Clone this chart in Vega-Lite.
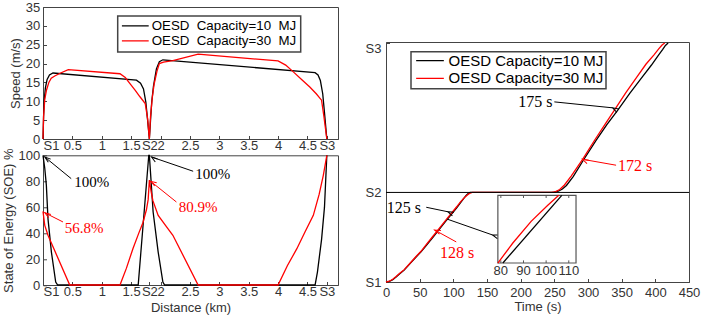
{
"$schema": "https://vega.github.io/schema/vega-lite/v6.json",
"background": "white",
"padding": {"left": 1, "top": 0, "right": 0, "bottom": 0},
"config": {
  "view": {"stroke": "#444", "strokeWidth": 1},
  "axis": {"grid": false, "labelOverlap": false, "labelFont": "Liberation Sans", "labelFontSize": 13, "labelColor": "#333", "titleFont": "Liberation Sans", "titleFontSize": 13, "titleFontWeight": "normal", "titleColor": "#333", "domainColor": "#444", "domainWidth": 1, "tickColor": "#444", "tickSize": -3.5, "tickWidth": 1},
  "legend": {"strokeWidth": 1.5},
  "line": {"strokeWidth": 1.3}
},
"datasets": {
  "speed": [
    {"s":"10","km":0,"v":0},{"s":"10","km":0.01,"v":6},{"s":"10","km":0.02,"v":10},{"s":"10","km":0.04,"v":13.5},{"s":"10","km":0.07,"v":15.8},{"s":"10","km":0.11,"v":17},{"s":"10","km":0.17,"v":17.5},{"s":"10","km":1.59,"v":15.6},{"s":"10","km":1.66,"v":14.8},{"s":"10","km":1.71,"v":13.3},{"s":"10","km":1.75,"v":9.8},{"s":"10","km":1.78,"v":5},{"s":"10","km":1.81,"v":0},{"s":"10","km":1.83,"v":5},{"s":"10","km":1.85,"v":9.8},{"s":"10","km":1.88,"v":14},{"s":"10","km":1.93,"v":18.6},{"s":"10","km":1.98,"v":20.5},{"s":"10","km":2.04,"v":21},{"s":"10","km":4.63,"v":17.6},{"s":"10","km":4.68,"v":17},{"s":"10","km":4.72,"v":15.5},{"s":"10","km":4.76,"v":12},{"s":"10","km":4.79,"v":7},{"s":"10","km":4.83,"v":0},
    {"s":"30","km":0,"v":0},{"s":"30","km":0.01,"v":6},{"s":"30","km":0.03,"v":10.5},{"s":"30","km":0.06,"v":13},{"s":"30","km":0.1,"v":15},{"s":"30","km":0.14,"v":16.1},{"s":"30","km":0.2,"v":16.7},{"s":"30","km":0.3,"v":17.5},{"s":"30","km":0.43,"v":18.4},{"s":"30","km":1.31,"v":17.3},{"s":"30","km":1.4,"v":16.3},{"s":"30","km":1.48,"v":14.7},{"s":"30","km":1.57,"v":12.9},{"s":"30","km":1.65,"v":11.2},{"s":"30","km":1.74,"v":9.4},{"s":"30","km":1.78,"v":5.4},{"s":"30","km":1.81,"v":0},{"s":"30","km":1.83,"v":6},{"s":"30","km":1.86,"v":11},{"s":"30","km":1.89,"v":14.5},{"s":"30","km":1.94,"v":18},{"s":"30","km":1.98,"v":20},{"s":"30","km":2.05,"v":20.4},{"s":"30","km":2.21,"v":20.8},{"s":"30","km":2.64,"v":22.5},{"s":"30","km":4,"v":20.7},{"s":"30","km":4.13,"v":19.6},{"s":"30","km":4.26,"v":17.8},{"s":"30","km":4.4,"v":15.8},{"s":"30","km":4.54,"v":13.8},{"s":"30","km":4.65,"v":12},{"s":"30","km":4.74,"v":10.3},{"s":"30","km":4.78,"v":6},{"s":"30","km":4.83,"v":0}
  ],
  "soe": [
    {"s":"10","km":0,"soe":100},{"s":"10","km":0.03,"soe":90},{"s":"10","km":0.057,"soe":77},{"s":"10","km":0.085,"soe":51},{"s":"10","km":0.143,"soe":25.4},{"s":"10","km":0.216,"soe":2.3},{"s":"10","km":0.25,"soe":0},{"s":"10","km":1.62,"soe":0},{"s":"10","km":1.8,"soe":100},{"s":"10","km":1.81,"soe":100},{"s":"10","km":1.874,"soe":56.3},{"s":"10","km":1.96,"soe":25.4},{"s":"10","km":2.04,"soe":2.3},{"s":"10","km":2.07,"soe":0},{"s":"10","km":4.63,"soe":0},{"s":"10","km":4.67,"soe":10},{"s":"10","km":4.74,"soe":35},{"s":"10","km":4.79,"soe":60},{"s":"10","km":4.83,"soe":100},
    {"s":"30","km":0,"soe":56.8},{"s":"30","km":0.03,"soe":46},{"s":"30","km":0.085,"soe":38.3},{"s":"30","km":0.455,"soe":0},{"s":"30","km":1.31,"soe":0},{"s":"30","km":1.42,"soe":13},{"s":"30","km":1.53,"soe":28},{"s":"30","km":1.63,"soe":40},{"s":"30","km":1.7,"soe":48},{"s":"30","km":1.76,"soe":58},{"s":"30","km":1.79,"soe":66},{"s":"30","km":1.81,"soe":80.9},{"s":"30","km":1.84,"soe":72},{"s":"30","km":1.87,"soe":65},{"s":"30","km":1.96,"soe":53.7},{"s":"30","km":2.1,"soe":45},{"s":"30","km":2.21,"soe":38.3},{"s":"30","km":2.64,"soe":0},{"s":"30","km":4,"soe":0},{"s":"30","km":4.16,"soe":15},{"s":"30","km":4.32,"soe":28},{"s":"30","km":4.46,"soe":41},{"s":"30","km":4.6,"soe":53.7},{"s":"30","km":4.7,"soe":70},{"s":"30","km":4.77,"soe":84.6},{"s":"30","km":4.83,"soe":100}
  ],
  "arrL": [
    {"id":1,"s":"10","km":0.48,"soe":82,"km2":0.03,"soe2":98.7},
    {"id":2,"s":"10","km":2.555,"soe":87.7,"km2":1.847,"soe2":98.7},
    {"id":3,"s":"30","km":0.34,"soe":48.6,"km2":0.03,"soe2":55.7},
    {"id":4,"s":"30","km":2.27,"soe":64,"km2":1.83,"soe2":80}
  ],
  "txtL": [
    {"s":"10","km":0.83,"soe":79.4,"label":"100%"},
    {"s":"10","km":2.89,"soe":85.6,"label":"100%"},
    {"s":"30","km":0.7,"soe":44,"label":"56.8%"},
    {"s":"30","km":2.64,"soe":59.8,"label":"80.9%"}
  ],
  "dist": [
    {"s":"10","t":0,"d":0},{"s":"10","t":5,"d":0.012},{"s":"10","t":10,"d":0.045},{"s":"10","t":15,"d":0.1},{"s":"10","t":20,"d":0.16},{"s":"10","t":27,"d":0.24},{"s":"10","t":35,"d":0.36},{"s":"10","t":45,"d":0.51},{"s":"10","t":52,"d":0.61},{"s":"10","t":60,"d":0.74},{"s":"10","t":70,"d":0.91},{"s":"10","t":77,"d":1.03},{"s":"10","t":90,"d":1.25},{"s":"10","t":99,"d":1.4},{"s":"10","t":105,"d":1.5},{"s":"10","t":110,"d":1.59},{"s":"10","t":115,"d":1.68},{"s":"10","t":119,"d":1.75},{"s":"10","t":122,"d":1.79},{"s":"10","t":125,"d":1.81},{"s":"10","t":243,"d":1.81},{"s":"10","t":250,"d":1.815},{"s":"10","t":256,"d":1.835},{"s":"10","t":262,"d":1.88},{"s":"10","t":268,"d":1.95},{"s":"10","t":278,"d":2.13},{"s":"10","t":294,"d":2.48},{"s":"10","t":312,"d":2.86},{"s":"10","t":328,"d":3.18},{"s":"10","t":344,"d":3.47},{"s":"10","t":362,"d":3.81},{"s":"10","t":381,"d":4.15},{"s":"10","t":394,"d":4.38},{"s":"10","t":405,"d":4.59},{"s":"10","t":411,"d":4.7},{"s":"10","t":415,"d":4.78},{"s":"10","t":419,"d":4.83},
    {"s":"30","t":0,"d":0},{"s":"30","t":5,"d":0.015},{"s":"30","t":10,"d":0.055},{"s":"30","t":15,"d":0.11},{"s":"30","t":20,"d":0.17},{"s":"30","t":27,"d":0.25},{"s":"30","t":35,"d":0.37},{"s":"30","t":45,"d":0.52},{"s":"30","t":52,"d":0.62},{"s":"30","t":60,"d":0.76},{"s":"30","t":70,"d":0.93},{"s":"30","t":77,"d":1.05},{"s":"30","t":90,"d":1.27},{"s":"30","t":99,"d":1.42},{"s":"30","t":105,"d":1.52},{"s":"30","t":110,"d":1.61},{"s":"30","t":116,"d":1.7},{"s":"30","t":120,"d":1.75},{"s":"30","t":124,"d":1.79},{"s":"30","t":128,"d":1.81},{"s":"30","t":246,"d":1.81},{"s":"30","t":252,"d":1.825},{"s":"30","t":258,"d":1.87},{"s":"30","t":265,"d":1.96},{"s":"30","t":275,"d":2.14},{"s":"30","t":292,"d":2.48},{"s":"30","t":310,"d":2.87},{"s":"30","t":325,"d":3.18},{"s":"30","t":339,"d":3.47},{"s":"30","t":356,"d":3.82},{"s":"30","t":373,"d":4.15},{"s":"30","t":386,"d":4.4},{"s":"30","t":398,"d":4.59},{"s":"30","t":405,"d":4.71},{"s":"30","t":410,"d":4.79},{"s":"30","t":414,"d":4.83}
  ],
  "arrR": [
    {"id":5,"s":"10","t":250,"d":3.64,"t2":336.4,"d2":3.52},
    {"id":6,"s":"30","t":341.7,"d":2.36,"t2":291.8,"d2":2.48},
    {"id":7,"s":"10","t":59.8,"d":1.51,"t2":91.6,"d2":1.42},
    {"id":8,"s":"30","t":104.3,"d":0.81,"t2":72.2,"d2":1.05},
    {"id":9,"s":"10","t":91,"d":1.27,"t2":158.3,"d2":0.95}
  ],
  "txtR": [
    {"s":"10","t":221.8,"d":3.63,"label":"175 s"},
    {"s":"30","t":370,"d":2.34,"label":"172 s"},
    {"s":"10","t":26.6,"d":1.5,"label":"125 s"},
    {"s":"30","t":105.6,"d":0.585,"label":"128 s"}
  ],
  "inset": [
    {"s":"30","t":78.68,"d":1.1},{"s":"30","t":85.29,"d":1.236},{"s":"30","t":93.37,"d":1.383},{"s":"30","t":100.73,"d":1.492},{"s":"30","t":105.58,"d":1.56},
    {"s":"10","t":80.88,"d":1.1},{"s":"10","t":106.91,"d":1.56}
  ],
  "insetTicks": [{"t":80},{"t":90},{"t":100},{"t":110}]
},
"hconcat": [
  {
    "vconcat": [
      {
        "width": 295, "height": 132,
        "data": {"name": "speed"},
        "mark": {"type": "line", "strokeWidth": 1.3},
        "encoding": {
          "x": {"field": "km", "type": "quantitative", "scale": {"domain": [0, 5.02], "nice": false, "zero": false},
                "axis": {"title": null, "values": [0,0.5,1,1.5,1.81,2,2.5,3,3.5,4,4.5,4.83], "labelExpr": "datum.value == 0 ? 'S1' : datum.value == 1.81 ? 'S2' : datum.value == 4.83 ? 'S3' : format(datum.value, '~g')", "labelOverlap": false, "labelFlush": true, "labelPadding": 4}},
          "y": {"field": "v", "type": "quantitative", "scale": {"domain": [0, 35], "nice": false},
                "axis": {"title": "Speed (m/s)", "values": [0,5,10,15,20,25,30,35], "labelPadding": 6.8, "titlePadding": 3}},
          "color": {"field": "s", "type": "nominal", "scale": {"domain": ["10","30"], "range": ["#000000","#ff0000"]},
                    "legend": {"title": null, "orient": "none", "legendX": 74.7, "legendY": 9, "symbolType": "stroke", "symbolSize": 729, "symbolStrokeWidth": 1.3, "symbolOffset": -1, "clipHeight": 11.7, "rowPadding": 0, "labelFont": "Liberation Sans", "labelFontSize": 13.3, "labelColor": "#000", "labelOffset": 2, "labelLimit": 400, "padding": 4, "strokeColor": "#444", "fillColor": "white", "labelExpr": "'OESD\u00a0 Capacity=' + datum.label + '\u00a0 MJ'"}}
        }
      },
      {
        "width": 295, "height": 129.7,
        "layer": [
          {
            "data": {"name": "soe"},
            "mark": {"type": "line", "strokeWidth": 1.3},
            "encoding": {
              "x": {"field": "km", "type": "quantitative", "scale": {"domain": [0, 5.02], "nice": false, "zero": false},
                    "axis": {"title": "Distance (km)", "values": [0,0.5,1,1.5,1.81,2,2.5,3,3.5,4,4.5,4.83], "labelExpr": "datum.value == 0 ? 'S1' : datum.value == 1.81 ? 'S2' : datum.value == 4.83 ? 'S3' : format(datum.value, '~g')", "labelOverlap": false, "labelFlush": true, "labelPadding": 4, "titlePadding": 3}},
              "y": {"field": "soe", "type": "quantitative", "scale": {"domain": [0, 100], "nice": false},
                    "axis": {"title": "State of Energy (SOE) %", "values": [0,20,40,60,80,100], "labelOverlap": false, "labelPadding": 6.8, "titlePadding": 3}},
              "color": {"field": "s", "type": "nominal", "scale": {"domain": ["10","30"], "range": ["#000000","#ff0000"]}, "legend": null}
            }
          },
          {
            "data": {"name": "arrL"},
            "mark": {"type": "rule", "strokeWidth": 1},
            "encoding": {
              "x": {"field": "km", "type": "quantitative", "scale": {"domain": [0, 5.02], "nice": false, "zero": false},
                    "axis": {"title": "Distance (km)", "values": [0,0.5,1,1.5,1.81,2,2.5,3,3.5,4,4.5,4.83], "labelExpr": "datum.value == 0 ? 'S1' : datum.value == 1.81 ? 'S2' : datum.value == 4.83 ? 'S3' : format(datum.value, '~g')", "labelOverlap": false, "labelFlush": true, "labelPadding": 4, "titlePadding": 3}},
              "x2": {"field": "km2"},
              "y": {"field": "soe", "type": "quantitative", "scale": {"domain": [0, 100], "nice": false},
                    "axis": {"title": "State of Energy (SOE) %", "values": [0,20,40,60,80,100], "labelOverlap": false, "labelPadding": 6.8, "titlePadding": 3}},
              "y2": {"field": "soe2"},
              "color": {"field": "s", "type": "nominal", "scale": {"domain": ["10","30"], "range": ["#000000","#ff0000"]}, "legend": null}
            }
          },
          {
            "data": {"name": "arrL"},
            "mark": {"type": "point", "shape": "M-0.55,1.7L0,0L0.55,1.7", "filled": false, "size": 50, "strokeWidth": 1, "opacity": 1},
            "encoding": {
              "x": {"field": "km2", "type": "quantitative", "scale": {"domain": [0, 5.02], "nice": false, "zero": false},
                    "axis": {"title": "Distance (km)", "values": [0,0.5,1,1.5,1.81,2,2.5,3,3.5,4,4.5,4.83], "labelExpr": "datum.value == 0 ? 'S1' : datum.value == 1.81 ? 'S2' : datum.value == 4.83 ? 'S3' : format(datum.value, '~g')", "labelOverlap": false, "labelFlush": true, "labelPadding": 4, "titlePadding": 3}},
              "y": {"field": "soe2", "type": "quantitative", "scale": {"domain": [0, 100], "nice": false},
                    "axis": {"title": "State of Energy (SOE) %", "values": [0,20,40,60,80,100], "labelOverlap": false, "labelPadding": 6.8, "titlePadding": 3}},
              "angle": {"field": "id", "type": "quantitative", "scale": {"domain": [1,2,3,4], "range": [-52,-71,-62,-56]}, "legend": null},
              "color": {"field": "s", "type": "nominal", "scale": {"domain": ["10","30"], "range": ["#000000","#ff0000"]}, "legend": null}
            }
          },
          {
            "data": {"name": "txtL"},
            "mark": {"type": "text", "font": "Liberation Serif", "fontSize": 15, "align": "center", "baseline": "middle"},
            "encoding": {
              "x": {"field": "km", "type": "quantitative", "scale": {"domain": [0, 5.02], "nice": false, "zero": false},
                    "axis": {"title": "Distance (km)", "values": [0,0.5,1,1.5,1.81,2,2.5,3,3.5,4,4.5,4.83], "labelExpr": "datum.value == 0 ? 'S1' : datum.value == 1.81 ? 'S2' : datum.value == 4.83 ? 'S3' : format(datum.value, '~g')", "labelOverlap": false, "labelFlush": true, "labelPadding": 4, "titlePadding": 3}},
              "y": {"field": "soe", "type": "quantitative", "scale": {"domain": [0, 100], "nice": false},
                    "axis": {"title": "State of Energy (SOE) %", "values": [0,20,40,60,80,100], "labelOverlap": false, "labelPadding": 6.8, "titlePadding": 3}},
              "text": {"field": "label"},
              "color": {"field": "s", "type": "nominal", "scale": {"domain": ["10","30"], "range": ["#333333","#ff3030"]}, "legend": null}
            }
          }
        ]
      }
    ],
    "spacing": 16.3,
    "bounds": "flush",
    "resolve": {"scale": {"color": "independent"}}
  },
  {
    "vconcat": [
      {
        "width": 303, "height": 35,
        "data": {"values": []},
        "mark": "point",
        "view": {"stroke": null}
      },
      {
        "width": 303, "height": 240,
        "layer": [
          {
            "layer": [
              {
                "data": {"name": "dist"},
                "mark": {"type": "line", "strokeWidth": 1.3},
                "encoding": {
                  "x": {"field": "t", "type": "quantitative", "scale": {"domain": [0, 450], "nice": false},
                        "axis": {"title": "Time (s)", "values": [0,50,100,150,200,250,300,350,400,450], "labelOverlap": false, "labelFlush": false, "labelPadding": 7.5, "titlePadding": 1}},
                  "y": {"field": "d", "type": "quantitative", "scale": {"domain": [0, 4.85], "nice": false},
                        "axis": {"title": null, "values": [0, 1.81, 4.83], "labelOverlap": false, "labelExpr": "datum.value == 0 ? 'S1' : datum.value == 1.81 ? 'S2' : 'S3'", "labelBaseline": {"condition": {"test": "datum.value > 4", "value": "top"}, "value": "middle"}, "labelPadding": 8.5}},
                  "color": {"field": "s", "type": "nominal", "scale": {"domain": ["10","30"], "range": ["#000000","#ff0000"]},
                            "legend": {"title": null, "orient": "none", "legendX": 25, "legendY": 9.7, "symbolType": "stroke", "symbolSize": 767, "symbolStrokeWidth": 1.3, "symbolOffset": 2.5, "clipHeight": 14, "rowPadding": 2.7, "labelFont": "Liberation Sans", "labelFontSize": 15, "labelColor": "#000", "labelOffset": 4.1, "labelLimit": 400, "padding": 2, "strokeColor": "#444", "fillColor": "white", "labelExpr": "'OESD Capacity=' + datum.label + ' MJ'"}}
                }
              },
              {
                "data": {"values": [{}]},
                "mark": {"type": "rule", "color": "#000000", "strokeWidth": 1},
                "encoding": {"y": {"datum": 1.81, "type": "quantitative", "scale": {"domain": [0, 4.85], "nice": false},
                        "axis": {"title": null, "values": [0, 1.81, 4.83], "labelOverlap": false, "labelExpr": "datum.value == 0 ? 'S1' : datum.value == 1.81 ? 'S2' : 'S3'", "labelBaseline": {"condition": {"test": "datum.value > 4", "value": "top"}, "value": "middle"}, "labelPadding": 8.5}}}
              },
              {
                "data": {"name": "arrR"},
                "mark": {"type": "rule", "strokeWidth": 1},
                "encoding": {
                  "x": {"field": "t", "type": "quantitative", "scale": {"domain": [0, 450], "nice": false},
                        "axis": {"title": "Time (s)", "values": [0,50,100,150,200,250,300,350,400,450], "labelOverlap": false, "labelFlush": false, "labelPadding": 7.5, "titlePadding": 1}},
                  "x2": {"field": "t2"},
                  "y": {"field": "d", "type": "quantitative", "scale": {"domain": [0, 4.85], "nice": false},
                        "axis": {"title": null, "values": [0, 1.81, 4.83], "labelOverlap": false, "labelExpr": "datum.value == 0 ? 'S1' : datum.value == 1.81 ? 'S2' : 'S3'", "labelBaseline": {"condition": {"test": "datum.value > 4", "value": "top"}, "value": "middle"}, "labelPadding": 8.5}},
                  "y2": {"field": "d2"},
                  "color": {"field": "s", "type": "nominal", "scale": {"domain": ["10","30"], "range": ["#000000","#ff0000"]}}
                }
              },
              {
                "data": {"name": "arrR"},
                "mark": {"type": "point", "shape": "M-0.55,1.7L0,0L0.55,1.7", "filled": false, "size": 50, "strokeWidth": 1, "opacity": 1},
                "encoding": {
                  "x": {"field": "t2", "type": "quantitative", "scale": {"domain": [0, 450], "nice": false},
                        "axis": {"title": "Time (s)", "values": [0,50,100,150,200,250,300,350,400,450], "labelOverlap": false, "labelFlush": false, "labelPadding": 7.5, "titlePadding": 1}},
                  "y": {"field": "d2", "type": "quantitative", "scale": {"domain": [0, 4.85], "nice": false},
                        "axis": {"title": null, "values": [0, 1.81, 4.83], "labelOverlap": false, "labelExpr": "datum.value == 0 ? 'S1' : datum.value == 1.81 ? 'S2' : 'S3'", "labelBaseline": {"condition": {"test": "datum.value > 4", "value": "top"}, "value": "middle"}, "labelPadding": 8.5}},
                  "angle": {"field": "id", "type": "quantitative", "scale": {"domain": [5,6,7,8,9], "range": [96,-80,102,-60,109]}, "legend": null},
                  "color": {"field": "s", "type": "nominal", "scale": {"domain": ["10","30"], "range": ["#000000","#ff0000"]}}
                }
              },
              {
                "data": {"name": "txtR"},
                "mark": {"type": "text", "font": "Liberation Serif", "fontSize": 16, "align": "center", "baseline": "middle"},
                "encoding": {
                  "x": {"field": "t", "type": "quantitative", "scale": {"domain": [0, 450], "nice": false},
                        "axis": {"title": "Time (s)", "values": [0,50,100,150,200,250,300,350,400,450], "labelOverlap": false, "labelFlush": false, "labelPadding": 7.5, "titlePadding": 1}},
                  "y": {"field": "d", "type": "quantitative", "scale": {"domain": [0, 4.85], "nice": false},
                        "axis": {"title": null, "values": [0, 1.81, 4.83], "labelOverlap": false, "labelExpr": "datum.value == 0 ? 'S1' : datum.value == 1.81 ? 'S2' : 'S3'", "labelBaseline": {"condition": {"test": "datum.value > 4", "value": "top"}, "value": "middle"}, "labelPadding": 8.5}},
                  "text": {"field": "label"},
                  "color": {"field": "s", "type": "nominal", "scale": {"domain": ["10","30"], "range": ["#000000","#ff0000"]}}
                }
              }
            ]
          },
          {
            "layer": [
              {
                "data": {"values": [{}]},
                "mark": {"type": "rect", "fill": "white", "stroke": "#555", "strokeWidth": 1.2},
                "encoding": {
                  "x": {"datum": 78.68, "type": "quantitative", "scale": {"domain": [29.27, 163.1], "nice": false, "zero": false}, "axis": null},
                  "x2": {"datum": 113.2},
                  "y": {"datum": 1.1, "type": "quantitative", "scale": {"domain": [0.971, 2.602], "nice": false, "zero": false}, "axis": null},
                  "y2": {"datum": 1.56}
                }
              },
              {
                "data": {"name": "insetTicks"},
                "mark": {"type": "rule", "color": "#555", "strokeWidth": 1},
                "encoding": {
                  "x": {"field": "t", "type": "quantitative", "scale": {"domain": [29.27, 163.1], "nice": false, "zero": false}, "axis": null},
                  "y": {"datum": 1.1, "type": "quantitative", "scale": {"domain": [0.971, 2.602], "nice": false, "zero": false}, "axis": null},
                  "y2": {"datum": 1.118}
                }
              },
              {
                "data": {"name": "insetTicks"},
                "mark": {"type": "rule", "color": "#555", "strokeWidth": 1},
                "encoding": {
                  "x": {"field": "t", "type": "quantitative", "scale": {"domain": [29.27, 163.1], "nice": false, "zero": false}, "axis": null},
                  "y": {"datum": 1.542, "type": "quantitative", "scale": {"domain": [0.971, 2.602], "nice": false, "zero": false}, "axis": null},
                  "y2": {"datum": 1.56}
                }
              },
              {
                "data": {"name": "inset"},
                "mark": {"type": "line", "strokeWidth": 1.3},
                "encoding": {
                  "x": {"field": "t", "type": "quantitative", "scale": {"domain": [29.27, 163.1], "nice": false, "zero": false}, "axis": null},
                  "y": {"field": "d", "type": "quantitative", "scale": {"domain": [0.971, 2.602], "nice": false, "zero": false}, "axis": null},
                  "color": {"field": "s", "type": "nominal", "scale": {"domain": ["10","30"], "range": ["#000000","#ff0000"]}}
                }
              },
              {
                "data": {"name": "insetTicks"},
                "mark": {"type": "text", "font": "Liberation Sans", "fontSize": 13, "color": "#333", "align": "center", "baseline": "middle"},
                "encoding": {
                  "x": {"field": "t", "type": "quantitative", "scale": {"domain": [29.27, 163.1], "nice": false, "zero": false}, "axis": null},
                  "y": {"datum": 1.045, "type": "quantitative", "scale": {"domain": [0.971, 2.602], "nice": false, "zero": false}, "axis": null},
                  "text": {"field": "t", "type": "quantitative"}
                }
              }
            ]
          }
        ],
        "resolve": {"scale": {"x": "independent", "y": "independent"}}
      }
    ],
    "spacing": 0,
    "bounds": "flush",
    "resolve": {"scale": {"color": "independent"}}
  }
],
"spacing": 25,
"resolve": {"scale": {"color": "independent"}}
}
